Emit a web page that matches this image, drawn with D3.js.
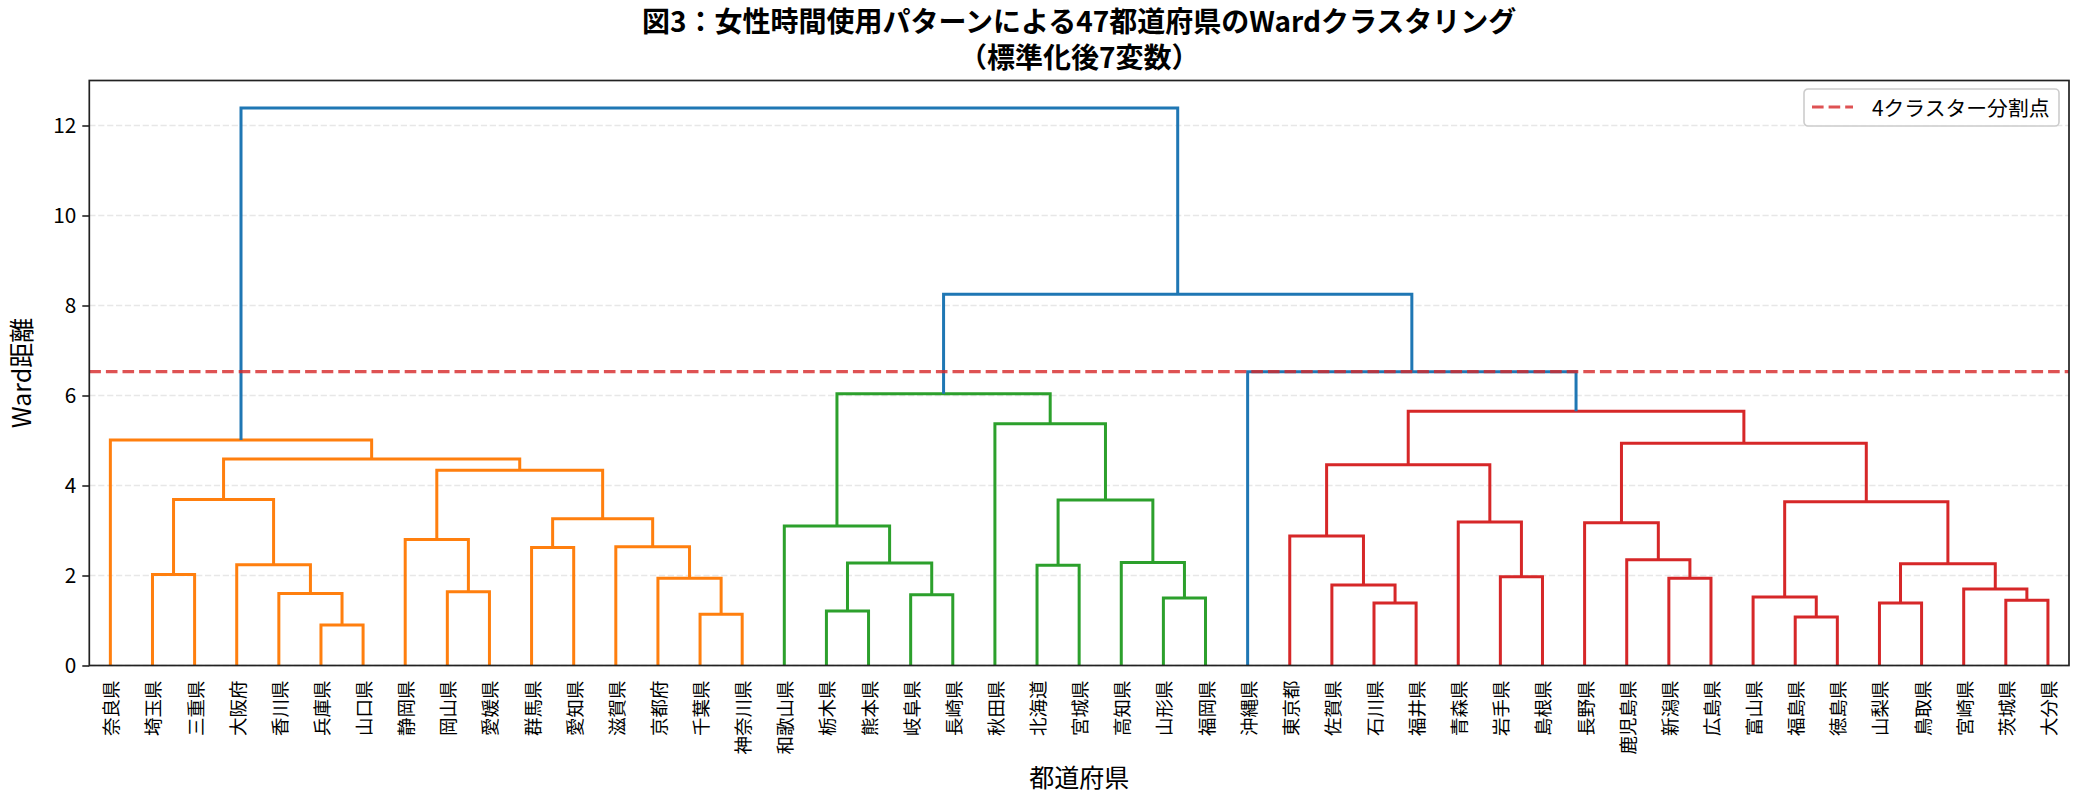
<!DOCTYPE html>
<html>
<head>
<meta charset="utf-8">
<script src="https://cdn.jsdelivr.net/npm/d3@7"></script>
<style>
  html, body { margin: 0; padding: 0; background: #fff; }
  svg { display: block; font-family: "Noto Sans CJK JP", "Noto Sans", sans-serif; }
</style>
</head>
<body>
<svg id="chart" width="2085" height="806"></svg>
<script>
// leaf order as it appears on the x axis
const leaves = [
  '奈良県','埼玉県','三重県','大阪府','香川県','兵庫県','山口県','静岡県','岡山県','愛媛県',
  '群馬県','愛知県','滋賀県','京都府','千葉県','神奈川県','和歌山県','栃木県','熊本県','岐阜県',
  '長崎県','秋田県','北海道','宮城県','高知県','山形県','福岡県','沖縄県','東京都','佐賀県',
  '石川県','福井県','青森県','岩手県','島根県','長野県','鹿児島県','新潟県','広島県','富山県',
  '福島県','徳島県','山梨県','鳥取県','宮崎県','茨城県','大分県'
];

// linkage: [left, right, height]; ids < 47 are leaves, 47+k is merge k
const linkage = [
  [5, 6, 0.90], [4, 47, 1.60], [3, 48, 2.24], [1, 2, 2.02], [50, 49, 3.69],
  [14, 15, 1.14], [13, 52, 1.94], [12, 53, 2.64], [10, 11, 2.62], [55, 54, 3.26],
  [8, 9, 1.64], [7, 57, 2.80], [58, 56, 4.34], [51, 59, 4.59], [0, 60, 5.01],
  [17, 18, 1.21], [19, 20, 1.57], [62, 63, 2.28], [16, 64, 3.10], [25, 26, 1.50],
  [24, 66, 2.29], [22, 23, 2.23], [68, 67, 3.68], [21, 69, 5.37], [65, 70, 6.04],
  [30, 31, 1.39], [29, 72, 1.79], [28, 73, 2.88], [33, 34, 1.97], [32, 75, 3.19],
  [74, 76, 4.46], [37, 38, 1.94], [36, 78, 2.35], [35, 79, 3.17], [40, 41, 1.08],
  [39, 81, 1.52], [45, 46, 1.45], [44, 83, 1.70], [42, 43, 1.39], [85, 84, 2.26],
  [82, 86, 3.64], [80, 87, 4.94], [77, 88, 5.65], [27, 89, 6.53], [71, 90, 8.25],
  [61, 91, 12.39]
];

const cutHeight = 6.53;
const yTicks = [0, 2, 4, 6, 8, 10, 12];
const clusterColors = ['#ff7f0e', '#2ca02c', '#d62728'];
const aboveColor = '#1f77b4';

const m = {left: 89.3, right: 2069, top: 80.5, bottom: 665.5};
const N = leaves.length;

const svg = d3.select('#chart');

const x = d3.scaleLinear().domain([0, N * 10]).range([m.left, m.right]);
const y = d3.scaleLinear().domain([0, 13]).range([m.bottom, m.top]);

// node positions: leaves at 5, 15, 25 ... ; merges at mean of children
const pos = leaves.map((d, i) => ({x: 5 + 10 * i, h: 0}));
linkage.forEach(([a, b, h]) => {
  pos.push({x: (pos[a].x + pos[b].x) / 2, h: h});
});

// colour each merge: above cut -> blue, below cut -> colour of its cluster
const mergeColor = new Array(linkage.length);
let colorIdx = 0;
function walk(id, col) {
  if (id < N) return;
  const k = id - N;
  const [a, b, h] = linkage[k];
  let c = col;
  if (h >= cutHeight) c = null;
  else if (c === null) c = clusterColors[colorIdx++ % clusterColors.length];
  mergeColor[k] = c === null ? aboveColor : c;
  walk(a, c);
  walk(b, c);
}
walk(N + linkage.length - 1, null);

// grid
svg.append('g').selectAll('line').data(yTicks).enter().append('line')
  .attr('x1', m.left).attr('x2', m.right)
  .attr('y1', d => y(d)).attr('y2', d => y(d))
  .attr('stroke', '#b0b0b0').attr('stroke-opacity', 0.3)
  .attr('stroke-width', 1.67).attr('stroke-dasharray', '6.2,2.7');

// dendrogram links
svg.append('g').attr('fill', 'none').attr('stroke-width', 3)
  .selectAll('path').data(linkage).enter().append('path')
  .attr('stroke', (d, k) => mergeColor[k])
  .attr('d', ([a, b, h]) => {
    const pa = pos[a], pb = pos[b];
    return `M${x(pa.x)},${y(pa.h)}V${y(h)}H${x(pb.x)}V${y(pb.h)}`;
  });

// cut line
svg.append('line')
  .attr('x1', m.left).attr('x2', m.right)
  .attr('y1', y(cutHeight)).attr('y2', y(cutHeight))
  .attr('stroke', '#d62728').attr('stroke-opacity', 0.8)
  .attr('stroke-width', 3.1).attr('stroke-dasharray', '11.6,5');

// frame
svg.append('rect')
  .attr('x', m.left).attr('y', m.top)
  .attr('width', m.right - m.left).attr('height', m.bottom - m.top)
  .attr('fill', 'none').attr('stroke', '#222').attr('stroke-width', 1.7);

// y axis
const yAxis = svg.append('g').attr('transform', `translate(${m.left},0)`)
  .call(d3.axisLeft(y).tickValues(yTicks).tickSize(7).tickPadding(6));
yAxis.select('.domain').remove();
yAxis.selectAll('line').attr('stroke', '#222').attr('stroke-width', 1.6);
yAxis.selectAll('text').attr('fill', '#000')
  .style('font-size', '20.8px').style('font-family', '"Noto Sans CJK JP", sans-serif');

// leaf labels
svg.append('g').selectAll('text').data(leaves).enter().append('text')
  .attr('transform', (d, i) => `translate(${x(5 + 10 * i)},${m.bottom + 15}) rotate(-90)`)
  .attr('text-anchor', 'end').attr('dominant-baseline', 'central')
  .style('font-size', '18.5px').attr('fill', '#000')
  .text(d => d);

// axis titles
svg.append('text').attr('x', (m.left + m.right) / 2).attr('y', 787)
  .attr('text-anchor', 'middle').style('font-size', '25px').text('都道府県');
svg.append('text').attr('transform', `translate(31,${(m.top + m.bottom) / 2}) rotate(-90)`)
  .attr('text-anchor', 'middle').style('font-size', '25px').text('Ward距離');

// title
const title = svg.append('text').attr('text-anchor', 'middle')
  .style('font-size', '28px').style('font-weight', 'bold');
title.append('tspan').attr('x', (m.left + m.right) / 2).attr('y', 32)
  .text('図3：女性時間使用パターンによる47都道府県のWardクラスタリング');
title.append('tspan').attr('x', (m.left + m.right) / 2).attr('y', 68)
  .text('（標準化後7変数）');

// legend
const lg = svg.append('g').attr('transform', 'translate(1804,89)');
lg.append('rect').attr('width', 255).attr('height', 37).attr('rx', 4)
  .attr('fill', '#fff').attr('fill-opacity', 0.8)
  .attr('stroke', '#cccccc').attr('stroke-width', 1.6);
lg.append('line').attr('x1', 8).attr('x2', 49).attr('y1', 18).attr('y2', 18)
  .attr('stroke', '#d62728').attr('stroke-opacity', 0.8)
  .attr('stroke-width', 3.1).attr('stroke-dasharray', '11.6,5');
lg.append('text').attr('x', 68).attr('y', 18).attr('dominant-baseline', 'central')
  .style('font-size', '20.8px').text('4クラスター分割点');
</script>
</body>
</html>
